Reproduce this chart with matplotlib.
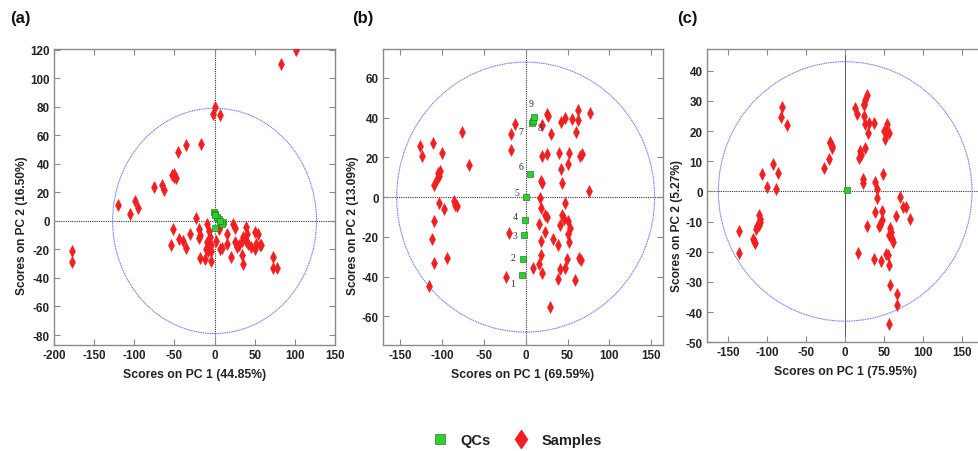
import matplotlib
matplotlib.use("Agg")
import matplotlib.pyplot as plt
from matplotlib.patches import Ellipse
from matplotlib.lines import Line2D

plt.rcParams['font.family'] = ['Liberation Sans', 'DejaVu Sans']
plt.rcParams['font.weight'] = 'bold'
plt.rcParams['axes.labelweight'] = 'bold'
plt.rcParams['axes.unicode_minus'] = False

# ---------------- data ----------------
# Panel (a)
a_samples_x = [101.6, 83, 0.4, -1.6, 6.5, -17, -35, -46, -53, -50, -48, -51, -65, -63, -75,
               -99, -95, -120, -105, -177, -177,
               -23, -52, -54, -44, -39, -30, -35, -19, -18, -20, -9, -7, -6, -9, -5, -11, -8, -4,
               -18, -12, -5, 7, 5, 16, 15, 23, 25, 20, 26, 28, 30, 34, 34, 35, 39, 40, 36, 39, 42,
               45, 50, 54, 52, 50, 56, 58, 73, 73, 78, 2, 9, 6]
a_samples_y = [120, 110, 80, 75, 74, 54, 53, 48, 32, 31, 30, 33, 25, 22, 24,
               14, 9, 11, 5, -21, -29,
               2, -6, -17, -13, -14, -9, -19, -6, -10, -12, -2, -7, -11, -15, -17, -20, -21, -21,
               -26, -27, -28, -20, -5, -9, -16, -2, -5, -25, -15, -18, -17, -14, -24, -30, -4, -9, -11, -14, -16,
               -18, -8, -9, -16, -20, -17, -17, -25, -33, -33, -14, -19, -6]
a_qc_x = [-1, 1, 5, 11, 9, 1, 3, 7, 0]
a_qc_y = [6, 5, 1, -1, -2, -5, 3, 0, 4]

# Panel (b)
b_samples_x = [-126, -124, -111, -100, -76, -68, -105, -103, -106, -102, -110, -104, -97, -86, -84, -82,
               -109, -112, -109, -94, -115,
               -13, -18, -18, -20, -23.5,
               25.5, 27, 46.6, 42.6, 63, 63, 55.4, 76.5, 60, 19.5, 30, 19.5, 25.5, 39.4, 51.4, 50.6,
               65, 67, 42.6, 18.7, 19.5, 43.4, 75.3, 17.5, 18.7, 23.5, 26, 47.4, 43.4, 45.4, 50, 53.4,
               15.5, 22.7, 41.4, 50.6, 51.4, 18.7, 32.7, 38.6, 18.7, 15.5, 9.2, 19.5, 40.6, 49.4, 46.6,
               64, 66.5, 38.6, 59.4, 29.5]
b_samples_y = [25.7, 20.6, 27, 22, 33, 16.4, 12, 10.6, 9, 13, 6, -3, -6, -2, -4, -4.5,
               -12, -21, -33, -30.5, -45,
               36.6, 32, 23.7, -18, -40,
               42, 41, 39.6, 37.8, 43.8, 38.8, 39.4, 42.4, 33, 36.2, 31.7, 20.6, 21.5, 22.3, 22.3, 16.8,
               20.6, 21.8, 14.3, 8, 7.2, 7.2, 3, -0.7, -5.7, -9, -10, -3.2, -9.2, -11, -12, -15.4,
               -13.3, -17.4, -14.3, -18.6, -22.5, -22.3, -21, -24.3, -29.4, -33.6, -35.6, -38, -36, -31, -35.7,
               -30.5, -31.7, -41.4, -42, -55.4]
b_qc_x = [-4.4, -3, -1.6, -1, 1, 5.6, 8, 9, 10]
b_qc_y = [-39.3, -31, -19.3, -11.4, 0, 11.4, 37.4, 38.5, 40.3]
b_qc_labels = ['1', '2', '3', '4', '5', '6', '7', '8', '9']

# Panel (c)
c_samples_x = [-80.6, -83, -75.4, -107, -93.4, -86, -100, -89, -27, -21, -19, -17.6, -16.7, -20,
               -110, -111, -113, -111, -109, -114, -119, -117, -116, -136, -137,
               12.4, 14.6, 24, 24.4, 25, 28, 24.4, 25, 30, 29.6, 37.3, 54, 49.3, 52.7, 56, 51,
               18.9, 18, 20, 25, 22.3, 23, 38.6, 48, 40.3, 41, 71, 74.6, 77.6, 83, 38, 46.7, 46.7,
               44.6, 43.3, 28.3, 57.4, 58.7, 56.6, 59.6, 61, 65, 17, 36.4, 45.9, 53, 55.3, 56.6,
               57.4, 66, 66.9, 56.6]
c_samples_y = [28, 24.5, 22, 5.8, 9.1, 6, 1.5, 0.8, 7.7, 10.9, 16.5, 15, 14.3, 16,
               -10, -11.2, -11.5, -7.8, -9, -12.6, -15.7, -16.5, -17, -13, -20.4,
               27.7, 25.7, 28.8, 29, 30.4, 32, 24.9, 22.2, 22.7, 19.5, 22.7, 22.5, 20, 19.5, 19.5, 17.3,
               13.4, 11.2, 12, 14.5, 4.1, 2.7, 3.2, 5.7, 0.8, -2.3, -1.9, -5.2, -5.3, -9.3, -6.7, -6.6, -9.5,
               -11, -11.3, -11.3, -12.2, -13.5, -14.3, -15.7, -16.6, -8.2, -20.4, -22.5, -23, -20.7, -21.2, -24.5,
               -31, -34, -37.7, -44]
c_qc_x = [1.7]
c_qc_y = [0.5]

# Confidence ellipse half-axes (x, y)
a_ellipse = (127, 79)
b_ellipse = (154, 68)
c_ellipse = (163, 43)

panel_letters = ['(a)', '(b)', '(c)']
x_labels = ['Scores on PC 1 (44.85%)', 'Scores on PC 1 (69.59%)', 'Scores on PC 1 (75.95%)']
y_labels = ['Scores on PC 2 (16.50%)', 'Scores on PC 2 (13.09%)', 'Scores on PC 2 (5.27%)']
x_ticks = [[-200, -150, -100, -50, 0, 50, 100, 150],
           [-150, -100, -50, 0, 50, 100, 150],
           [-150, -100, -50, 0, 50, 100, 150]]
y_ticks = [[-80, -60, -40, -20, 0, 20, 40, 60, 80, 100, 120],
           [-60, -40, -20, 0, 20, 40, 60],
           [-50, -40, -30, -20, -10, 0, 10, 20, 30, 40]]
legend_labels = ['QCs', 'Samples']

# ---------------- styling ----------------
RED = '#f02020'
GREEN = '#33cc33'
GREEN_EDGE = '#1a8a1a'
ELL = '#6f6fff'
SPINE = '#8a8a8a'
TXT = '#222222'

fig = plt.figure(figsize=(9.79, 4.52), dpi=100)

positions = [
    [54/979, 1-346/452, 281/979, 296/452],
    [382.7/979, 1-346/452, 280.3/979, 296/452],
    [706.7/979, 1-343.3/452, 277/979, 293.3/452],
]
xlims = [(-200, 150), (-170.7, 164), (-178, 178)]
ylims = [(-87, 120.5), (-74.5, 74.6), (-50, 47.2)]

samples = [(a_samples_x, a_samples_y), (b_samples_x, b_samples_y), (c_samples_x, c_samples_y)]
qcs = [(a_qc_x, a_qc_y), (b_qc_x, b_qc_y), (c_qc_x, c_qc_y)]
ellipses = [a_ellipse, b_ellipse, c_ellipse]
ylabel_x = [28/979, 359/979, 683/979]
letter_pos = [(10, 19), (352, 19), (677, 19)]

qc_label_offsets = [(-7, -6), (-7, 1), (-7, 0), (-7, 2), (-7, 3), (-7, 6), (-8, -6), (5, -5), (-2, 10)]

for i in range(3):
    ax = fig.add_axes(positions[i])
    ax.set_xlim(*xlims[i])
    ax.set_ylim(*ylims[i])
    ax.set_xticks(x_ticks[i])
    ax.set_yticks(y_ticks[i])
    ax.tick_params(direction='in', top=True, right=True, length=4, width=0.8,
                   color=SPINE, labelsize=8.4, labelcolor=TXT, pad=3)
    for s in ax.spines.values():
        s.set_color(SPINE)
        s.set_linewidth(1.0)
    # zero lines
    ax.axhline(0, color='#333333', lw=0.8, ls=(0, (1, 1)), zorder=1)
    if i == 2:
        ax.axvline(0, color='#555555', lw=0.7, zorder=1)
    else:
        ax.axvline(0, color='#333333', lw=0.8, ls=(0, (1, 1)), zorder=1)
    rx, ry = ellipses[i]
    ax.add_patch(Ellipse((0, 0), 2*rx, 2*ry, fill=False, edgecolor=ELL, lw=0.8,
                         ls=(0, (1, 0.6)), zorder=1))
    sx, sy = samples[i]
    ax.plot(sx, sy, ls='none', marker='d', ms=5.8, mfc=RED, mec=RED, mew=0.4, zorder=3)
    qx, qy = qcs[i]
    ax.plot(qx, qy, ls='none', marker='s', ms=5, mfc=GREEN, mec=GREEN_EDGE, mew=0.5, zorder=4)
    if i == 1:
        for k, lab in enumerate(b_qc_labels):
            ax.annotate(lab, (qx[k], qy[k]), xytext=qc_label_offsets[k], textcoords='offset points',
                        fontsize=7, color='#333333', family='Liberation Serif', fontweight='normal',
                        ha='center', va='center', zorder=5)
    ax.set_xlabel(x_labels[i], fontsize=8.8, color=TXT, labelpad=5)
    ax.set_ylabel(y_labels[i], fontsize=8.6, color=TXT)
    ax.yaxis.set_label_coords(ylabel_x[i], 0.5, transform=fig.transFigure)
    fig.text(letter_pos[i][0]/979, 1-letter_pos[i][1]/452, panel_letters[i], fontsize=12,
             color='#111111', ha='left', va='center')

handles = [Line2D([], [], ls='none', marker='s', ms=7, mfc=GREEN, mec=GREEN_EDGE, mew=0.5),
           Line2D([], [], ls='none', marker='d', ms=9.5, mfc=RED, mec=RED)]
leg = fig.legend(handles, legend_labels, loc='center', bbox_to_anchor=(517/979, 1-441/452),
                 ncol=2, frameon=False, prop={'weight': 'bold', 'size': 10.5},
                 handletextpad=0.9, columnspacing=1.6, handlelength=1.0)
for t in leg.get_texts():
    t.set_color(TXT)

fig.savefig('out.png', dpi=100)
